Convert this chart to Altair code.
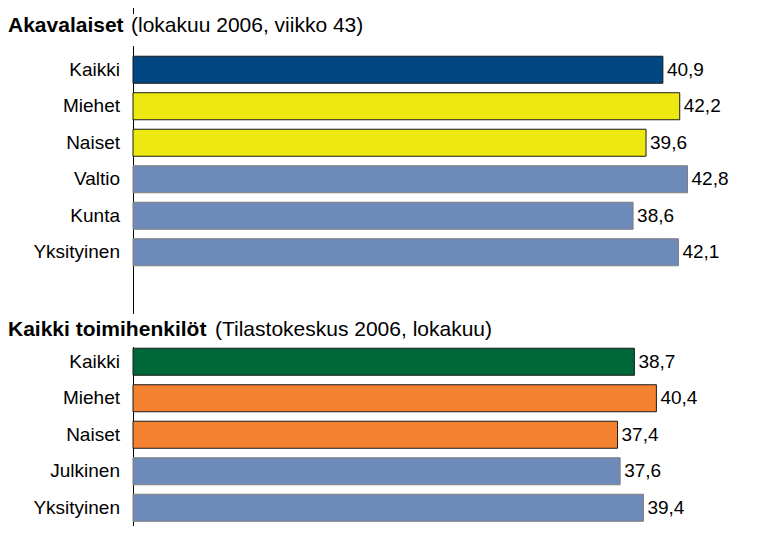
import altair as alt
import pandas as pd

# ---- data ----
a_labels = ["Kaikki", "Miehet", "Naiset", "Valtio", "Kunta", "Yksityinen"]
a_values = [40.9, 42.2, 39.6, 42.8, 38.6, 42.1]
a_fills = ["#004682", "#EEE811", "#EEE811", "#6E8AB8", "#6E8AB8", "#6E8AB8"]
a_strokes = ["#1a1a1a", "#1a1a1a", "#1a1a1a", "#7f7f7f", "#7f7f7f", "#7f7f7f"]

b_labels = ["Kaikki", "Miehet", "Naiset", "Julkinen", "Yksityinen"]
b_values = [38.7, 40.4, 37.4, 37.6, 39.4]
b_fills = ["#006838", "#F58231", "#F58231", "#6E8AB8", "#6E8AB8"]
b_strokes = ["#1a1a1a", "#1a1a1a", "#1a1a1a", "#7f7f7f", "#7f7f7f"]

title_a_bold = "Akavalaiset"
title_a_rest = "(lokakuu 2006, viikko 43)"
title_b_bold = "Kaikki toimihenkilöt"
title_b_rest = "(Tilastokeskus 2006, lokakuu)"

# rows: 0 title A, 1-6 group A, 7 blank, 8 title B, 9-13 group B
rows = [f"r{i:02d}" for i in range(14)]
records = []
for i, (l, v, f, s) in enumerate(zip(a_labels, a_values, a_fills, a_strokes)):
    records.append(dict(row=rows[1 + i], label=l, value=v, fill=f, stroke=s))
for i, (l, v, f, s) in enumerate(zip(b_labels, b_values, b_fills, b_strokes)):
    records.append(dict(row=rows[9 + i], label=l, value=v, fill=f, stroke=s))
df = pd.DataFrame(records)
df["vtext"] = df["value"].map(lambda x: f"{x:.1f}".replace(".", ","))

FONT = "Liberation Sans"
W, H = 583, 511

yscale = alt.Scale(domain=rows, paddingInner=0.26, paddingOuter=0.13)
y = alt.Y("row:N", scale=yscale, axis=None)
x = alt.X("value:Q", scale=alt.Scale(domain=[0, 45]), axis=None)

base = alt.Chart(df)

bars = base.mark_bar(strokeWidth=1).encode(
    x=x, y=y,
    fill=alt.Fill("fill:N", scale=None),
    stroke=alt.Stroke("stroke:N", scale=None),
)
vals = base.mark_text(align="left", baseline="middle", dx=4, fontSize=19, font=FONT, color="#000").encode(
    x=x, y=y, text="vtext:N"
)
labels = base.mark_text(align="right", baseline="middle", fontSize=19, font=FONT, color="#000").encode(
    x=alt.value(-13), y=y, text="label:N"
)

def seg(y1, y2):
    return alt.Chart(df).mark_rule(color="#000", strokeWidth=1).encode(
        x=alt.value(0.5), y=alt.value(y1), y2=alt.value(y2)
    )

axis_line = seg(-11, -1) + seg(31, 299) + seg(332, 511)

def title(bold, rest, ybase, xrest):
    t1 = alt.Chart(pd.DataFrame({"t": [bold]})).mark_text(
        align="left", baseline="alphabetic", fontSize=21, fontWeight="bold", font=FONT, color="#000"
    ).encode(x=alt.value(-125), y=alt.value(ybase), text="t:N")
    t2 = alt.Chart(pd.DataFrame({"t": [rest]})).mark_text(
        align="left", baseline="alphabetic", fontSize=21, font=FONT, color="#000"
    ).encode(x=alt.value(xrest), y=alt.value(ybase), text="t:N")
    return t1 + t2

titles = title(title_a_bold, title_a_rest, 16.7, -2) + title(title_b_bold, title_b_rest, 321, 82)

chart = alt.layer(axis_line, bars, vals, labels, titles).properties(
    width=W, height=H,
    autosize=alt.AutoSizeParams(type="none"),
    padding={"left": 125, "top": 7, "right": 49, "bottom": 0},
    background="white",
).configure_view(stroke=None)

chart.save("out.html", embed_options={"renderer": "svg", "actions": False})
